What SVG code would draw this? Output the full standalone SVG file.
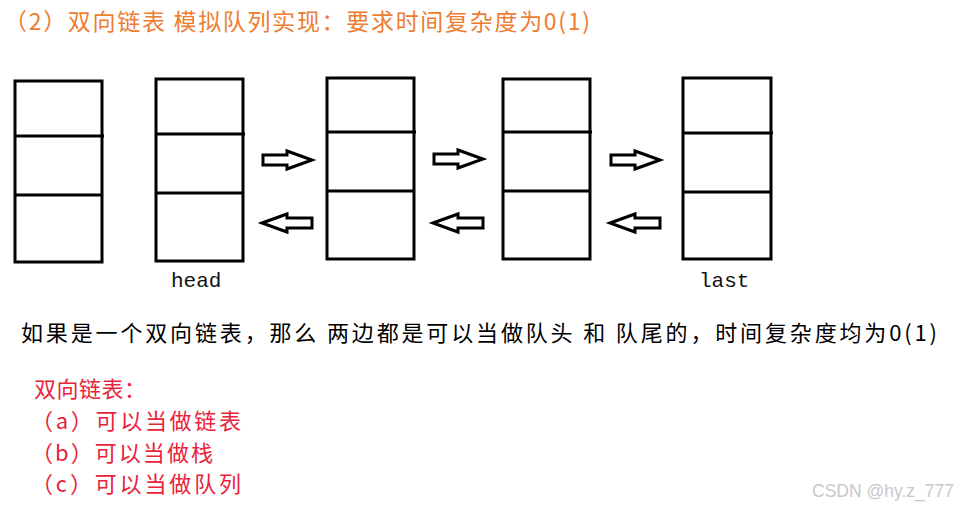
<svg xmlns="http://www.w3.org/2000/svg" xmlns:xlink="http://www.w3.org/1999/xlink" width="959" height="508" viewBox="0 0 959 508">
<style>
.box{fill:#fff;stroke:#000;stroke-width:3}
.div{stroke:#000;stroke-width:3}
.arr{fill:#fff;stroke:#000;stroke-width:3;stroke-linejoin:miter}
.cjk{font-family:"Noto Sans CJK SC","Noto Sans",sans-serif}
.lbl{font-family:"Liberation Mono","DejaVu Sans Mono",monospace;font-size:21px;fill:#111}
.title{fill:#ED7D31;font-size:23px}
.body{fill:#000;font-size:22px}
.red{fill:#E8233A;font-size:22px}
.wm{font-family:"Liberation Sans",Arial,sans-serif;font-size:17.5px;fill:#c8c8c8}
</style>
<defs>
<polygon id="ra" points="0,-5 24,-5 24,-9 49,0 24,9 24,5 0,5"/>
<polygon id="la" points="0,0 25,-9 25,-5 50,-5 50,5 25,5 25,9"/>
</defs>
<rect width="959" height="508" fill="#fff"/>
<text class="cjk title" x="4" y="30" textLength="586" lengthAdjust="spacing">（2）双向链表 模拟队列实现：要求时间复杂度为0(1)</text>
<g id="node1">
<rect class="box" x="15" y="81" width="87" height="181"/>
<line class="div" x1="15" y1="136" x2="104" y2="136"/>
<line class="div" x1="15" y1="195" x2="102" y2="195"/>
</g>
<g id="node2">
<rect class="box" x="156" y="79" width="87" height="182"/>
<line class="div" x1="156" y1="134" x2="245" y2="134"/>
<line class="div" x1="156" y1="193" x2="243" y2="193"/>
<text class="lbl" x="171" y="287">head</text>
</g>
<g id="node3">
<rect class="box" x="327" y="78" width="87" height="181"/>
<line class="div" x1="327" y1="132" x2="416" y2="132"/>
<line class="div" x1="327" y1="191" x2="414" y2="191"/>
</g>
<g id="node4">
<rect class="box" x="503" y="79" width="87" height="180"/>
<line class="div" x1="503" y1="132" x2="592" y2="132"/>
<line class="div" x1="503" y1="191" x2="590" y2="191"/>
</g>
<g id="node5">
<rect class="box" x="683" y="78" width="88" height="181"/>
<line class="div" x1="683" y1="133" x2="773" y2="133"/>
<line class="div" x1="683" y1="192" x2="771" y2="192"/>
<text class="lbl" x="699" y="287">last</text>
</g>
<g id="connectors">
<use xlink:href="#ra" class="arr" x="263" y="160"/>
<use xlink:href="#la" class="arr" x="262" y="223"/>
<use xlink:href="#ra" class="arr" x="434" y="159"/>
<use xlink:href="#la" class="arr" x="433" y="223"/>
<use xlink:href="#ra" class="arr" x="611" y="160"/>
<use xlink:href="#la" class="arr" x="610" y="223"/>
</g>
<text class="cjk body" x="21" y="341" textLength="916" lengthAdjust="spacing">如果是一个双向链表，那么 两边都是可以当做队头 和 队尾的，时间复杂度均为0(1)</text>
<text class="cjk red" x="34" y="397" textLength="112" lengthAdjust="spacing">双向链表：</text>
<text class="cjk red" x="31" y="429" textLength="210" lengthAdjust="spacing">（a）可以当做链表</text>
<text class="cjk red" x="31" y="461" textLength="182" lengthAdjust="spacing">（b）可以当做栈</text>
<text class="cjk red" x="31" y="492" textLength="210" lengthAdjust="spacing">（c）可以当做队列</text>
<text class="wm" x="812" y="497">CSDN @hy.z_777</text>
</svg>
